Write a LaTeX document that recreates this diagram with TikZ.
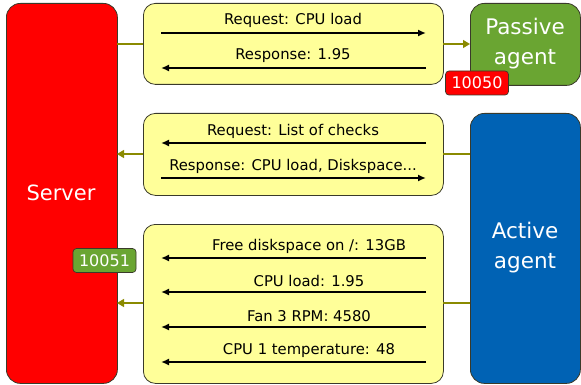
\documentclass[tikz,border=0pt]{standalone}
\usepackage{fontspec}
\setmainfont{DejaVu Sans}
\usetikzlibrary{arrows.meta}
\definecolor{srvred}{HTML}{FF0000}
\definecolor{boxyel}{HTML}{FFFF99}
\definecolor{pasgreen}{HTML}{6AA532}
\definecolor{actblue}{HTML}{0062B4}
\definecolor{olive}{HTML}{8A8A00}
\definecolor{edge}{HTML}{3A3A2A}
\begin{document}
\begin{tikzpicture}[x=1pt,y=-1pt,
  bigbox/.style={draw=edge,line width=0.8pt,rounded corners=14pt,anchor=north west,inner sep=0pt},
  yelbox/.style={draw=edge,line width=0.8pt,fill=boxyel,rounded corners=12pt,anchor=north west,inner sep=0pt,minimum width=300pt},
  port/.style={draw=edge,line width=0.7pt,rounded corners=3.5pt,text=white,font=\fontsize{16}{18}\selectfont,inner sep=1pt,minimum height=24pt,minimum width=63pt},
  msg/.style={font=\fontsize{14.8}{16}\selectfont,inner sep=0pt},
  flow/.style={line width=1.6pt,-{Latex[length=8pt,width=7pt]}},
  conn/.style={draw=olive,line width=1.4pt},
  connarr/.style={conn,-{Triangle[length=7pt,width=8pt]}},
  big/.style={text=white,font=\fontsize{21}{25}\selectfont,align=center}]
\useasboundingbox (0,0) rectangle (581,385);
% main boxes
\node[bigbox,fill=srvred,minimum width=111pt,minimum height=380pt] (server) at (6,3) {};
\node[big] (servertxt) at (61,193) {Server};
\node[bigbox,fill=pasgreen,minimum width=110pt,minimum height=82pt] (passive) at (470,3) {};
\node[big,font=\fontsize{21.5}{30}\selectfont] (passivetxt) at (525,44) {Passive\\agent};
\node[bigbox,fill=actblue,minimum width=110pt,minimum height=270pt] (active) at (470,113) {};
\node[big,font=\fontsize{21.5}{30}\selectfont] (activetxt) at (525,248) {Active\\agent};
% yellow boxes
\node[yelbox,minimum height=81pt] (b1) at (143,3) {};
\node[yelbox,minimum height=82pt] (b2) at (143,113) {};
\node[yelbox,minimum height=159pt] (b3) at (143,224) {};
% connectors
\coordinate (s1) at (117,44); \coordinate (b1l) at (143,44);
\coordinate (b1r) at (443,44); \coordinate (p1) at (470,44);
\draw[conn] (s1) -- (b1l);
\draw[connarr] (b1r) -- (p1);
\coordinate (a2) at (470,154); \coordinate (b2r) at (443,154);
\coordinate (b2l) at (143,154); \coordinate (s2) at (117,154);
\draw[conn] (a2) -- (b2r);
\draw[connarr] (b2l) -- (s2);
\coordinate (a3) at (470,303); \coordinate (b3r) at (443,303);
\coordinate (b3l) at (143,303); \coordinate (s3) at (117,303);
\draw[conn] (a3) -- (b3r);
\draw[connarr] (b3l) -- (s3);
% ports
\node[port,fill=srvred] (p10050) at (477,83) {10050};
\node[port,fill=pasgreen] (p10051) at (104.5,260.5) {10051};
% messages
\node[msg] (m1) at (293,20) {Request: CPU load};
\coordinate (m1a) at (161,33); \coordinate (m1b) at (426,33);
\draw[flow] (m1a) -- (m1b);
\node[msg] (m2) at (293,56) {Response: 1.95};
\coordinate (m2a) at (426,68); \coordinate (m2b) at (161,68);
\draw[flow] (m2a) -- (m2b);
\node[msg] (m3) at (293,131) {Request: List of checks};
\coordinate (m3a) at (426,143); \coordinate (m3b) at (161,143);
\draw[flow] (m3a) -- (m3b);
\node[msg] (m4) at (293,166) {Response: CPU load, Diskspace...};
\coordinate (m4a) at (161,178); \coordinate (m4b) at (426,178);
\draw[flow] (m4a) -- (m4b);
\node[msg] (m5) at (309,246) {Free diskspace on /: 13GB};
\coordinate (m5a) at (426,258); \coordinate (m5b) at (161,258);
\draw[flow] (m5a) -- (m5b);
\node[msg] (m6) at (309,281) {CPU load: 1.95};
\coordinate (m6a) at (426,292); \coordinate (m6b) at (161,292);
\draw[flow] (m6a) -- (m6b);
\node[msg] (m7) at (309,316) {Fan 3 RPM: 4580};
\coordinate (m7a) at (426,327); \coordinate (m7b) at (161,327);
\draw[flow] (m7a) -- (m7b);
\node[msg] (m8) at (309,351) {CPU 1 temperature: 48};
\coordinate (m8a) at (426,362); \coordinate (m8b) at (161,362);
\draw[flow] (m8a) -- (m8b);
\end{tikzpicture}
\end{document}
